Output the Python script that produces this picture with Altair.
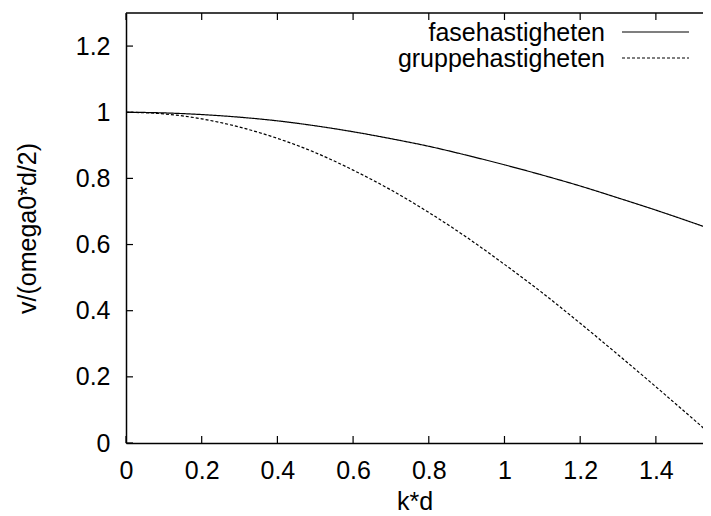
import altair as alt
import pandas as pd

# values
kd = [0.0, 0.1, 0.2, 0.3, 0.4, 0.5, 0.6, 0.7, 0.8, 0.9, 1.0, 1.1, 1.2, 1.3, 1.4, 1.5, 1.55]
fase = [1.0, 0.998, 0.993, 0.985, 0.974, 0.959, 0.941, 0.920, 0.897, 0.870, 0.841,
        0.810, 0.777, 0.741, 0.704, 0.665, 0.645]
gruppe = [1.0, 0.995, 0.980, 0.955, 0.921, 0.878, 0.825, 0.765, 0.697, 0.622, 0.540,
          0.454, 0.362, 0.267, 0.170, 0.071, 0.021]
series = ["fasehastigheten", "gruppehastigheten"]
x_ticks = [0, 0.2, 0.4, 0.6, 0.8, 1.0, 1.2, 1.4]
y_ticks = [0, 0.2, 0.4, 0.6, 0.8, 1.0, 1.2]
x_max = 1.5245
y_max = 1.3

W, H = 577, 430
FONT = "Liberation Sans"
FS = 25
TICK = 7

df = pd.concat([
    pd.DataFrame({"kd": kd, "v": fase, "serie": series[0]}),
    pd.DataFrame({"kd": kd, "v": gruppe, "serie": series[1]}),
])
xt = pd.DataFrame({"kd": x_ticks})
yt = pd.DataFrame({"v": y_ticks})
leg1 = pd.DataFrame({"serie": [series[0]]})
leg2 = pd.DataFrame({"serie": [series[1]]})

x_scale = alt.Scale(domain=[0, x_max], nice=False, zero=False)
y_scale = alt.Scale(domain=[0, y_max], nice=False, zero=False)

x_axis = alt.Axis(values=x_ticks, format="~g", title="k*d", tickSize=0,
                  labelPadding=15, grid=False, domainColor="black",
                  domainWidth=1.5, labelFontSize=FS, labelFont=FONT,
                  labelColor="black", titleFont=FONT, titleFontSize=FS,
                  titleFontWeight="normal", titleColor="black",
                  titleY=66, titleBaseline="alphabetic", labelFlush=False)
y_axis = alt.Axis(values=y_ticks, format="~g", title="v/(omega0*d/2)",
                  tickSize=0, labelPadding=16, grid=False,
                  domainColor="black", domainWidth=1.5, labelFontSize=FS,
                  labelFont=FONT, labelColor="black", titleFont=FONT,
                  titleFontSize=FS, titleFontWeight="normal",
                  titleColor="black", titleX=-99, titleY=H / 2,
                  titleBaseline="middle", titleAngle=-90, labelFlush=False)

lines = alt.Chart(df).mark_line(clip=True, color="black", strokeWidth=1.2,
                                interpolate="monotone").encode(
    x=alt.X("kd:Q", scale=x_scale, axis=x_axis),
    y=alt.Y("v:Q", scale=y_scale, axis=y_axis),
    strokeDash=alt.StrokeDash("serie:N",
                              scale=alt.Scale(domain=series, range=[[1, 0], [3, 2]]),
                              legend=None),
    detail="serie:N",
)

top_line = alt.Chart(leg1).mark_rule(color="black", strokeWidth=1.5).encode(
    x=alt.value(0), x2=alt.value(W), y=alt.value(0))

bottom_ticks = alt.Chart(xt).mark_rule(color="black", strokeWidth=1.2).encode(
    x=alt.X("kd:Q", scale=x_scale, axis=x_axis), y=alt.value(H), y2=alt.value(H - TICK))
top_ticks = alt.Chart(xt).mark_rule(color="black", strokeWidth=1.2).encode(
    x=alt.X("kd:Q", scale=x_scale, axis=x_axis), y=alt.value(0), y2=alt.value(TICK))
left_ticks = alt.Chart(yt).mark_rule(color="black", strokeWidth=1.2).encode(
    y=alt.Y("v:Q", scale=y_scale, axis=y_axis), x=alt.value(0), x2=alt.value(TICK))

leg_text1 = alt.Chart(leg1).mark_text(align="right", baseline="middle",
                                      font=FONT, fontSize=FS, color="black").encode(
    text="serie:N", x=alt.value(479), y=alt.value(20))
leg_text2 = alt.Chart(leg2).mark_text(align="right", baseline="middle",
                                      font=FONT, fontSize=FS, color="black").encode(
    text="serie:N", x=alt.value(479), y=alt.value(46))
leg_line1 = alt.Chart(leg1).mark_rule(color="black", strokeWidth=1.2).encode(
    x=alt.value(496), x2=alt.value(563), y=alt.value(19))
leg_line2 = alt.Chart(leg2).mark_rule(color="black", strokeWidth=1.2,
                                      strokeDash=[3, 2]).encode(
    x=alt.value(496), x2=alt.value(563), y=alt.value(45))

chart = alt.layer(
    lines, top_line, bottom_ticks, top_ticks, left_ticks,
    leg_text1, leg_text2, leg_line1, leg_line2,
).properties(
    width=W, height=H, autosize="none",
    padding={"left": 118, "top": 5, "right": 0, "bottom": 73},
    background="white",
).configure_view(stroke=None)

chart.save("out.html", embed_options={"renderer": "svg", "actions": False})
